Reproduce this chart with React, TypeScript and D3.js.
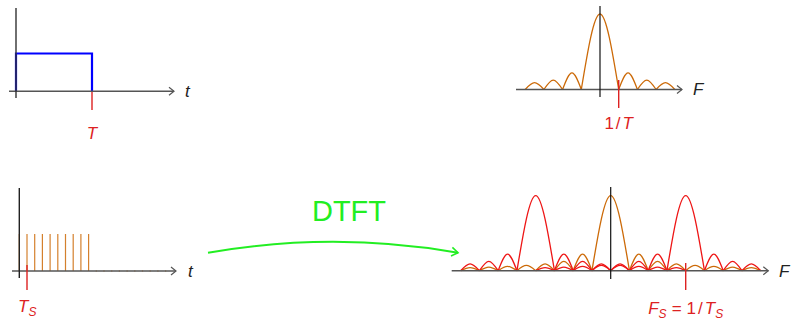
import React from 'react';
import * as d3 from 'd3';

const W = 792;
const H = 321;

// x[n]: ten unit samples followed by zeros
const sampleValues = [1, 1, 1, 1, 1, 1, 1, 1, 1, 1, 0, 0, 0, 0, 0, 0, 0, 0, 0, 0];
// rectangular pulse corners (t in units of T, amplitude 1)
const pulseT = [0, 0, 1, 1];
const pulseV = [0, 1, 1, 0];
// relative heights of the side lobes (main lobe = 1), nearest first
const sideLobes = [0.22, 0.125, 0.09, 0.07, 0.057, 0.049, 0.042];
// spectrum copies in the DTFT, at -Fs and +Fs (units of 1/T)
const aliasCentres = [-4, 4];
const fsUnits = 4;

const FONT = '"Liberation Sans", Arial, sans-serif';
const ORANGE = '#cc6a08';
const RED = '#ee1515';
const LABEL_RED = '#dd2222';
const AXIS = '#555';

type Lobe = { a: number; b: number; h: number };

// split one |spectrum| copy into its lobes, clipped to [lo, hi]
const lobesOf = (centre: number, lo: number, hi: number): Lobe[] => {
  const out: Lobe[] = [{ a: centre - 1, b: centre + 1, h: 1 }];
  sideLobes.forEach((h, k) => {
    out.push({ a: centre + k + 1, b: centre + k + 2, h });
    out.push({ a: centre - k - 2, b: centre - k - 1, h });
  });
  return out.filter(l => l.a >= lo - 1e-9 && l.b <= hi + 1e-9);
};

function Arrow({ x1, x2, y }: { x1: number; x2: number; y: number }) {
  return (
    <g stroke={AXIS} fill="none" strokeWidth={1.6}>
      <line x1={x1} x2={x2} y1={y} y2={y} />
      <polyline points={`${x2 - 5},${y - 4} ${x2},${y} ${x2 - 5},${y + 4}`} strokeWidth={1.2} />
    </g>
  );
}

function LobePaths({ lobes, x, y, color }: { lobes: Lobe[]; x: any; y: any; color: string }) {
  const line = d3
    .line<[number, number]>()
    .x(d => x(d[0]))
    .y(d => y(d[1]))
    .curve(d3.curveNatural);
  return (
    <g fill="none" stroke={color} strokeWidth={1.3}>
      {lobes.map((l, i) => (
        <path key={i} d={line([[l.a, 0], [(l.a + l.b) / 2, l.h], [l.b, 0]]) || ''} />
      ))}
    </g>
  );
}

export default function App() {
  // top left: rectangular pulse
  const tx = d3.scaleLinear().domain([0, 1]).range([16, 92]);
  const ty = d3.scaleLinear().domain([0, 1]).range([91.3, 53.5]);
  const pulseLine = d3
    .line<number>()
    .x((_, i) => tx(pulseT[i]))
    .y(d => ty(d));

  // top right: its spectrum
  const fx1 = d3.scaleLinear().domain([-4, 4]).range([525.2, 674.8]);
  const fy1 = d3.scaleLinear().domain([0, 1]).range([89.5, 14]);

  // bottom left: samples
  const nx = d3.scaleLinear().domain([0, 1]).range([19.3, 27]);
  const ny = d3.scaleLinear().domain([0, 1]).range([271, 234]);

  // bottom right: DTFT
  const fx2 = d3.scaleLinear().domain([-8, 8]).range([460.7, 760.7]);
  const fy2 = d3.scaleLinear().domain([0, 1]).range([270.7, 195.7]);

  const topLobes = lobesOf(0, -4, 4);
  const baseLobes = lobesOf(0, -8, 8);
  const aliasLobes = aliasCentres.flatMap(c => lobesOf(c, -8, 8));

  return (
    <svg
      width={W}
      height={H}
      style={{ position: 'absolute', left: 0, top: 0, background: '#fff' }}
      fontFamily={FONT}
    >
      {/* top left */}
      <line x1={tx(1)} x2={tx(1)} y1={85} y2={110} stroke={LABEL_RED} strokeWidth={1.4} />
      <path d={pulseLine(pulseV) || ''} fill="none" stroke="#0000ff" strokeWidth={2.2} />
      <Arrow x1={9} x2={174} y={ty(0)} />
      <line x1={16} x2={16} y1={8} y2={98} stroke="#333" strokeWidth={1.4} />
      <text x={185} y={97} fontSize={17} fontStyle="italic" fill="#222">t</text>
      <text x={tx(1)} y={139} fontSize={17} fontStyle="italic" fill={LABEL_RED} textAnchor="middle">T</text>

      {/* top right */}
      <LobePaths lobes={topLobes} x={fx1} y={fy1} color={ORANGE} />
      <Arrow x1={516} x2={682} y={fy1(0)} />
      <line x1={fx1(0)} x2={fx1(0)} y1={6} y2={97} stroke="#111" strokeWidth={1.2} />
      <line x1={fx1(1)} x2={fx1(1)} y1={80} y2={108} stroke={LABEL_RED} strokeWidth={1.4} />
      <text x={693} y={95} fontSize={17} fontStyle="italic" fill="#222">F</text>
      <text x={fx1(1)} y={129} fontSize={17} fill={LABEL_RED} textAnchor="middle">
        <tspan>1</tspan>
        <tspan dx={2}>/</tspan>
        <tspan dx={2} fontStyle="italic">T</tspan>
      </text>

      {/* bottom left */}
      <g stroke={ORANGE} strokeWidth={1.2}>
        {sampleValues.map((v, n) => (
          <line
            key={n}
            x1={nx(n)}
            x2={nx(n)}
            y1={ny(0) + (v ? 0 : 1)}
            y2={v ? ny(v) : ny(0) - 1}
            strokeOpacity={v ? 0.85 : 0.45}
          />
        ))}
      </g>
      <Arrow x1={12} x2={176} y={ny(0)} />
      <line x1={nx(0)} x2={nx(0)} y1={188} y2={278} stroke="#222" strokeWidth={1.4} />
      <line x1={nx(1)} x2={nx(1)} y1={265} y2={290} stroke={LABEL_RED} strokeWidth={1.4} />
      <text x={188} y={277} fontSize={17} fontStyle="italic" fill="#222">t</text>
      <text x={18} y={312} fontSize={17} fontStyle="italic" fill={LABEL_RED}>
        <tspan>T</tspan>
        <tspan fontSize={12} dy={4}>S</tspan>
      </text>

      {/* DTFT arrow */}
      <text x={349} y={220.5} fontSize={29} fill="#22ee22" textAnchor="middle">DTFT</text>
      <path d="M208,252.7 Q333,231 458,252.7" fill="none" stroke="#22ee22" strokeWidth={2} />
      <polyline points="452.4,247.4 458,252.7 451,256" fill="none" stroke="#22ee22" strokeWidth={1.6} />

      {/* bottom right */}
      <LobePaths lobes={baseLobes} x={fx2} y={fy2} color={ORANGE} />
      <LobePaths lobes={aliasLobes} x={fx2} y={fy2} color={RED} />
      <Arrow x1={451.7} x2={768.3} y={fy2(0)} />
      <line x1={fx2(0)} x2={fx2(0)} y1={187} y2={279} stroke="#111" strokeWidth={1.2} />
      <line x1={fx2(fsUnits)} x2={fx2(fsUnits)} y1={263} y2={290} stroke={LABEL_RED} strokeWidth={1.4} />
      <text x={779} y={277} fontSize={17} fontStyle="italic" fill="#222">F</text>
      <text x={fx2(fsUnits)} y={314} fontSize={17} fill={LABEL_RED} textAnchor="middle">
        <tspan fontStyle="italic">F</tspan>
        <tspan fontStyle="italic" fontSize={12} dy={4}>S</tspan>
        <tspan dy={-4} dx={5}>=</tspan>
        <tspan dx={5}>1</tspan>
        <tspan dx={2}>/</tspan>
        <tspan dx={2} fontStyle="italic">T</tspan>
        <tspan fontStyle="italic" fontSize={12} dy={4}>S</tspan>
      </text>
    </svg>
  );
}
